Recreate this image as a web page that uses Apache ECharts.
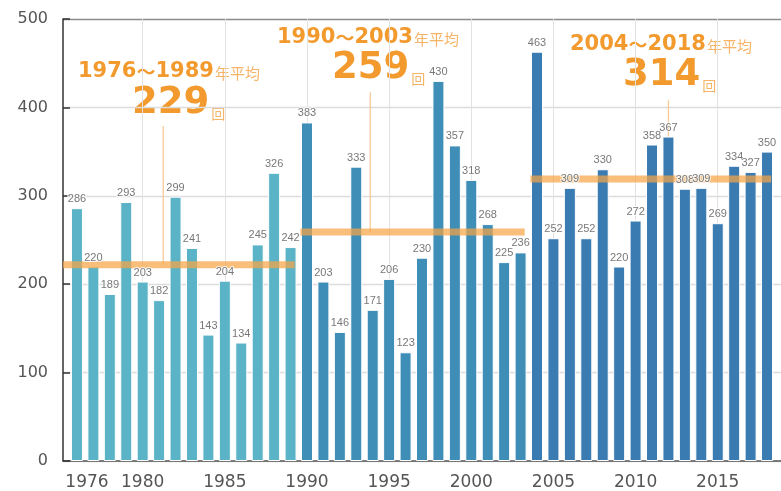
<!DOCTYPE html>
<html>
<head>
<meta charset="utf-8">
<script src="https://cdn.jsdelivr.net/npm/echarts@6/dist/echarts.min.js"></script>
<style>
html, body { margin: 0; padding: 0; background: #fff; }
#main { width: 781px; height: 491px; }
</style>
</head>
<body>
<div id="main"></div>
<script>
// 年ごとの回数
var years = [1976, 1977, 1978, 1979, 1980, 1981, 1982, 1983, 1984, 1985, 1986, 1987, 1988, 1989,
    1990, 1991, 1992, 1993, 1994, 1995, 1996, 1997, 1998, 1999, 2000, 2001, 2002, 2003,
    2004, 2005, 2006, 2007, 2008, 2009, 2010, 2011, 2012, 2013, 2014, 2015, 2016, 2017, 2018];
var counts = [286, 220, 189, 293, 203, 182, 299, 241, 143, 204, 134, 245, 326, 242,
    383, 203, 146, 333, 171, 206, 123, 230, 430, 357, 318, 268, 225, 236,
    463, 252, 309, 252, 330, 220, 272, 358, 367, 308, 309, 269, 334, 327, 350];

// 期間と平均
var periods = [[1976, 1989], [1990, 2003], [2004, 2018]];
var avgLabels = [229, 259, 314];
var avgLineLevel = [222, 259, 319];   // 図中で線が引かれている高さ

var xLabelYears = [1976, 1980, 1985, 1990, 1995, 2000, 2005, 2010, 2015];
var xGridYears = [1980, 1985, 1990, 1995, 2000, 2005, 2010, 2015];

var groupColors = ['#5ab3c7', '#3e8eb8', '#3a7bb2'];
var orange = '#f29a2e';
var paleOrange = '#f6b467';
var xMin = 1975.15, xMax = 2018.85;

function groupOf(y) {
    for (var i = 0; i < periods.length; i++) {
        if (y >= periods[i][0] && y <= periods[i][1]) return i;
    }
    return 0;
}

var barData = years.map(function (y, i) { return [y, counts[i]]; });

var chart = echarts.init(document.getElementById('main'));

var series = [];
// 棒
series.push({
    type: 'bar',
    data: barData,
    barWidth: 12,
    z: 2,
    silent: true,
    itemStyle: {
        color: function (p) { return groupColors[groupOf(p.value[0])]; },
        borderColor: '#fff',
        borderWidth: 1
    }
});
// 平均線
periods.forEach(function (p, i) {
    var x0 = i === 0 ? xMin : p[0] - 0.4;
    series.push({
        type: 'line',
        z: 3,
        silent: true,
        symbol: 'none',
        data: [[x0, avgLineLevel[i]], [p[1] + 0.25, avgLineLevel[i]]],
        lineStyle: { color: 'rgba(245,165,70,0.72)', width: 7 }
    });
});
// 引き出し線
var leaders = [[1981.25, 379], [1993.85, 417], [2012, 408]];
leaders.forEach(function (l, i) {
    series.push({
        type: 'line',
        z: 1,
        silent: true,
        symbol: 'none',
        data: [[l[0], avgLineLevel[i]], [l[0], l[1]]],
        lineStyle: { color: '#f8c995', width: 1.3 }
    });
});
// 数値ラベル
series.push({
    type: 'scatter',
    data: barData,
    z: 5,
    silent: true,
    symbolSize: 1,
    itemStyle: { color: 'rgba(0,0,0,0)' },
    label: {
        show: true,
        position: 'top',
        distance: 3,
        formatter: function (p) { return p.value[1]; },
        fontFamily: 'Liberation Sans',
        fontSize: 11,
        color: '#555',
        textBorderColor: '#fff',
        textBorderWidth: 2
    }
});

// 注記テキスト
var notePos = [
    [78, 72, 132, 103],
    [277, 38, 332, 68],
    [570, 45, 623, 75]
];
var graphic = [];
periods.forEach(function (p, i) {
    var pos = notePos[i];
    graphic.push({
        type: 'text',
        x: pos[0], y: pos[1],
        silent: true,
        style: {
            text: '{d|' + p[0] + '}{t|～}{d|' + p[1] + '}{s|年平均}',
            verticalAlign: 'middle',
            align: 'left',
            rich: {
                d: { fontFamily: 'DejaVu Sans', fontWeight: 'bold', fontSize: 21, fill: orange },
                t: { fontFamily: 'Noto Sans CJK JP', fontWeight: 'bold', fontSize: 19, fill: orange },
                s: { fontFamily: 'Noto Sans CJK JP', fontSize: 15, fill: paleOrange, verticalAlign: 'bottom', padding: [0, 0, 2, 1] }
            }
        }
    });
    graphic.push({
        type: 'text',
        x: pos[2], y: pos[3],
        silent: true,
        style: {
            text: '{b|' + avgLabels[i] + '}{s|回}',
            verticalAlign: 'middle',
            align: 'left',
            rich: {
                b: { fontFamily: 'DejaVu Sans', fontWeight: 'bold', fontSize: 37, fill: orange },
                s: { fontFamily: 'Noto Sans CJK JP', fontSize: 14, fill: paleOrange, verticalAlign: 'bottom', padding: [0, 0, 1, 2] }
            }
        }
    });
});

var option = {
    animation: false,
    grid: { left: 63, right: 0, top: 19, bottom: 30 },
    xAxis: {
        type: 'value',
        min: xMin,
        max: xMax,
        axisLine: { show: true, lineStyle: { color: '#555', width: 1.5 } },
        axisTick: { show: false, customValues: xGridYears },
        axisLabel: {
            customValues: xLabelYears,
            margin: 13,
            fontFamily: 'DejaVu Sans',
            fontSize: 17,
            color: '#555',
            formatter: function (v) { return v === 1976 ? '{f|' + v + '}' : String(v); },
            rich: {
                f: { fontFamily: 'DejaVu Sans', fontSize: 17, color: '#555', padding: [0, 0, 0, 20] }
            }
        },
        splitLine: { show: true, lineStyle: { color: '#e2e2e2', width: 1 } }
    },
    yAxis: {
        type: 'value',
        min: 0,
        max: 500,
        interval: 100,
        axisLine: { show: true, lineStyle: { color: '#333', width: 1.5 } },
        axisTick: { show: true, inside: true, length: 7, lineStyle: { color: '#333', width: 1.5 } },
        axisLabel: { margin: 15, fontFamily: 'DejaVu Sans', fontSize: 16, color: '#555' },
        splitLine: {
            show: true,
            lineStyle: { color: ['#dcdcdc', '#dcdcdc', '#dcdcdc', '#dcdcdc', '#dcdcdc', '#8c8c8c'], width: 1.3 }
        }
    },
    series: series,
    graphic: graphic
};

chart.setOption(option);
window.addEventListener('resize', function () {
    chart.resize();
});
</script>
</body>
</html>
